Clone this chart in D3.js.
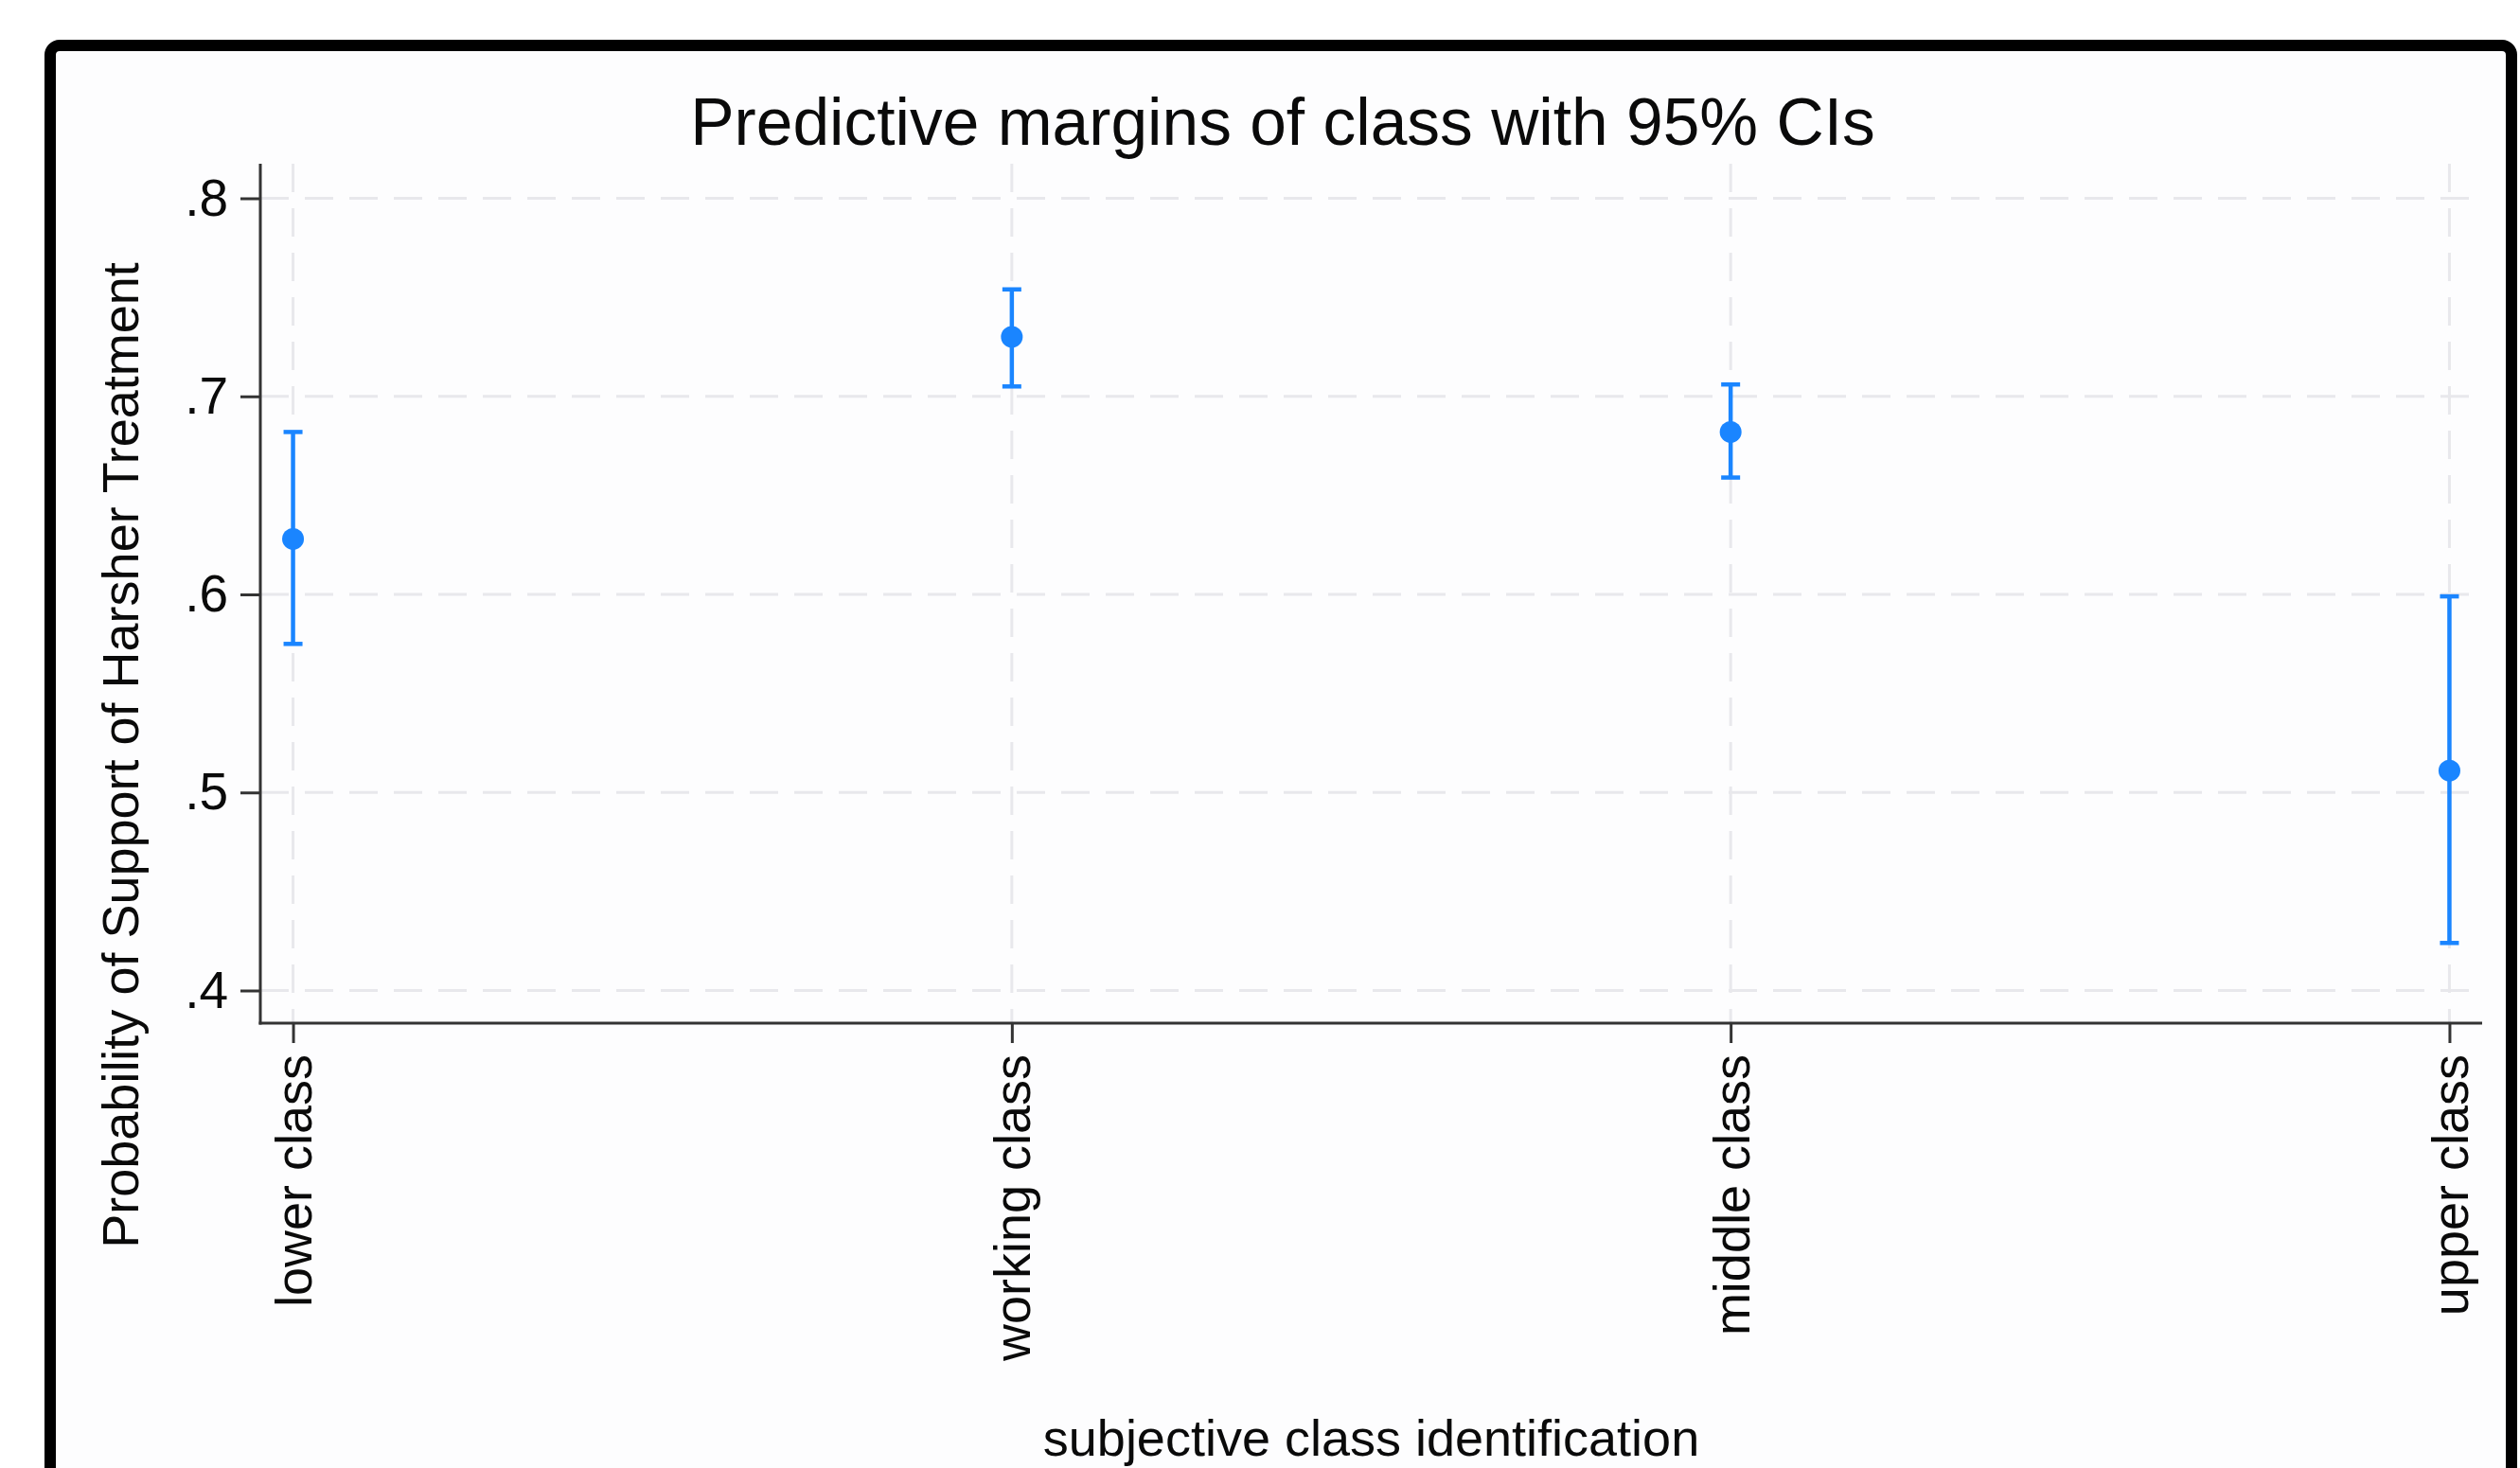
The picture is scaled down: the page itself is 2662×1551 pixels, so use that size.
<!DOCTYPE html>
<html>
<head>
<meta charset="utf-8">
<script src="https://cdn.jsdelivr.net/npm/d3@7"></script>
<style>
  html, body { margin: 0; padding: 0; background: #ffffff; }
  svg { display: block; }
  text { font-family: "Liberation Sans", Arial, sans-serif; fill: #0a0a0a; }
</style>
</head>
<body>
<script>
// ---- data ----
const categories = ["lower class", "working class", "middle class", "upper class"];
const margins   = [0.628, 0.730, 0.682, 0.511];
const ciLower   = [0.575, 0.705, 0.659, 0.424];
const ciUpper   = [0.682, 0.754, 0.706, 0.599];
const yTicks    = [0.4, 0.5, 0.6, 0.7, 0.8];
const titleText = "Predictive margins of class with 95% CIs";
const xTitle    = "subjective class identification";
const yTitle    = "Probability of Support of Harsher Treatment";

// ---- layout ----
const W = 2662, H = 1551;
const plot = { left: 275, right: 2622, top: 173, bottom: 1081 };
const color = "#1a85ff";

const svg = d3.select("body").append("svg").attr("width", W).attr("height", H);

// frame
svg.append("rect")
  .attr("x", 53).attr("y", 48).attr("width", 2600).attr("height", 1650)
  .attr("rx", 10).attr("ry", 10)
  .attr("fill", "#fdfdfe").attr("stroke", "#000").attr("stroke-width", 12);

// scales
const x = d3.scalePoint().domain(categories).range([plot.left, plot.right]).padding(0.0455);
const y = d3.scaleLinear().domain([0.4, 0.8]).range([1046.5, 209.5]);

// grid lines
const grid = svg.append("g");
grid.selectAll("line.h").data(yTicks).join("line")
  .attr("x1", plot.left).attr("x2", plot.right)
  .attr("y1", d => y(d)).attr("y2", d => y(d))
  .attr("stroke", "#e8e8ec").attr("stroke-width", 3).attr("stroke-dasharray", "30,17");
grid.selectAll("line.v").data(categories).join("line")
  .attr("x1", d => x(d)).attr("x2", d => x(d))
  .attr("y1", plot.top).attr("y2", plot.bottom)
  .attr("stroke", "#e8e8ec").attr("stroke-width", 3).attr("stroke-dasharray", "30,17");

// y axis
const yAxis = d3.axisLeft(y).tickValues(yTicks)
  .tickFormat(d => d3.format(".1f")(d).replace(/^0/, ""))
  .tickSize(21).tickPadding(13);
const gy = svg.append("g").attr("transform", `translate(${plot.left},0)`).call(yAxis);
gy.select(".domain").remove();
gy.selectAll(".tick line").attr("stroke", "#333").attr("stroke-width", 3);
gy.selectAll(".tick text").attr("font-size", 55).attr("fill", "#0a0a0a")
  .attr("font-family", "'Liberation Sans', Arial, sans-serif");
svg.append("line").attr("x1", plot.left).attr("x2", plot.left)
  .attr("y1", plot.top).attr("y2", plot.bottom + 1.5)
  .attr("stroke", "#333").attr("stroke-width", 3);

// x axis
const xAxis = d3.axisBottom(x).tickSize(21).tickPadding(0);
const gx = svg.append("g").attr("transform", `translate(0,${plot.bottom})`).call(xAxis);
gx.select(".domain").remove();
gx.selectAll(".tick line").attr("stroke", "#333").attr("stroke-width", 3);
gx.selectAll(".tick text")
  .attr("font-size", 54).attr("fill", "#0a0a0a")
  .attr("font-family", "'Liberation Sans', Arial, sans-serif")
  .attr("text-anchor", "end")
  .attr("dy", null)
  .attr("transform", "translate(19,33) rotate(-90)")
  .attr("y", 0).attr("x", 0);
svg.append("line").attr("x1", plot.left - 1.5).attr("x2", plot.right)
  .attr("y1", plot.bottom).attr("y2", plot.bottom)
  .attr("stroke", "#333").attr("stroke-width", 3);

// error bars
const rows = categories.map((c, i) => ({ c, m: margins[i], lo: ciLower[i], hi: ciUpper[i] }));
const eb = svg.append("g").attr("stroke", color).attr("stroke-width", 4.5);
eb.selectAll("line.stem").data(rows).join("line")
  .attr("x1", d => x(d.c)).attr("x2", d => x(d.c))
  .attr("y1", d => y(d.lo)).attr("y2", d => y(d.hi));
eb.selectAll("line.capHi").data(rows).join("line")
  .attr("x1", d => x(d.c) - 10).attr("x2", d => x(d.c) + 10)
  .attr("y1", d => y(d.hi)).attr("y2", d => y(d.hi));
eb.selectAll("line.capLo").data(rows).join("line")
  .attr("x1", d => x(d.c) - 10).attr("x2", d => x(d.c) + 10)
  .attr("y1", d => y(d.lo)).attr("y2", d => y(d.lo));
svg.append("g").selectAll("circle").data(rows).join("circle")
  .attr("cx", d => x(d.c)).attr("cy", d => y(d.m)).attr("r", 11.5)
  .attr("fill", color);

// titles
svg.append("text").attr("x", 1355).attr("y", 153)
  .attr("text-anchor", "middle").attr("font-size", 69.5).text(titleText);
svg.append("text").attr("x", (plot.left + plot.right) / 2).attr("y", 1538)
  .attr("text-anchor", "middle").attr("font-size", 54).text(xTitle);
svg.append("text")
  .attr("transform", "translate(146,798) rotate(-90)")
  .attr("text-anchor", "middle").attr("font-size", 54).text(yTitle);
</script>
</body>
</html>
